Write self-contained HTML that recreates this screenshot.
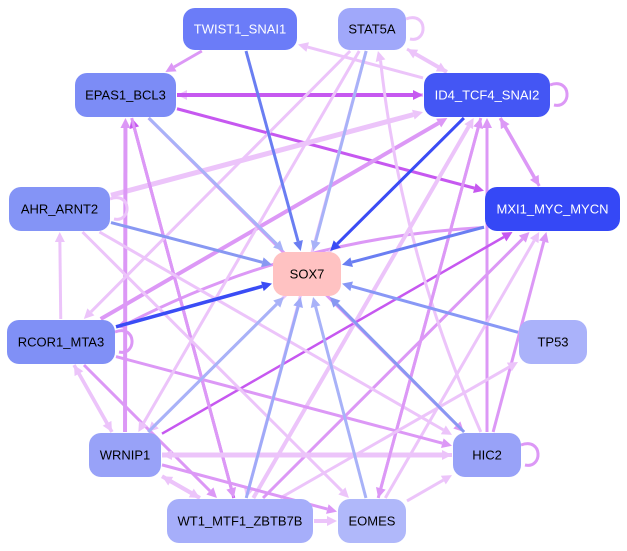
<!DOCTYPE html>
<html><head><meta charset="utf-8"><style>
html,body{margin:0;padding:0;background:#fff;width:627px;height:551px;overflow:hidden}
svg{display:block}
text{font-family:"Liberation Sans",sans-serif;font-size:13px;text-anchor:middle;dominant-baseline:central}
</style></head><body>
<svg id="s" width="627" height="551" viewBox="0 0 627 551" xmlns="http://www.w3.org/2000/svg">
<g id="edges"></g><g id="nodes"></g>
</svg>
<script>
const N={
TWIST:[183,8,114,42,'#6b7cf8','#fff','TWIST1_SNAI1'],
STAT:[338,8,68,42,'#a0a8fa','#000','STAT5A'],
EPAS:[75,73,101,44,'#7c8cf6','#000','EPAS1_BCL3'],
ID4:[424,73,126,44,'#4456f4','#fff','ID4_TCF4_SNAI2'],
AHR:[9,187,101,44,'#8494f6','#000','AHR_ARNT2'],
MXI:[485,187,135,44,'#3548f6','#fff','MXI1_MYC_MYCN'],
SOX:[273,252,68,44,'#ffc2c2','#000','SOX7'],
RCOR:[7,320,108,44,'#8090f6','#000','RCOR1_MTA3'],
TP53:[519,320,68,44,'#aab2fa','#000','TP53'],
WRN:[89,433,72,44,'#98a2f8','#000','WRNIP1'],
HIC:[453,433,68,44,'#98a2f8','#000','HIC2'],
WT1:[167,499,146,44,'#a6aefa','#000','WT1_MTF1_ZBTB7B'],
EOM:[338,499,68,44,'#b0b8fa','#000','EOMES']};
const DB='#3a4cf5',MB='#6a7ef2',LB='#a8b2f8',PU='#c658f0',PK='#dc98f6',LP='#ecc4fa';
const E=[
['TWIST','EPAS',PK,3],['ID4','EPAS',LP,4],['EPAS','ID4',PU,4],['EPAS','MXI',PU,3],
['ID4','MXI',PK,3.5],['MXI','ID4',PK,3],['ID4','STAT',LP,4],['STAT','ID4',LP,3],['ID4','TWIST',LP,3],
['MXI','RCOR',PK,3,40],['AHR','ID4',LP,5],['RCOR','ID4',PK,4],['WT1','ID4',LP,4],['HIC','ID4',PK,3],
['EOM','ID4',PK,3],['HIC','MXI',PK,3],['WT1','MXI',PK,3],['WRN','MXI',PU,2.5],['EOM','MXI',LP,3],
['WT1','EPAS',PU,3],['WRN','EPAS',PK,4],['EPAS','WT1',PK,3],['RCOR','HIC',PK,3],['RCOR','WT1',PK,3],
['RCOR','WRN',LP,3.5],['WRN','RCOR',LP,3.5],['AHR','HIC',LP,3],['AHR','EOM',LP,3],['RCOR','AHR',LP,3],
['WRN','HIC',LP,5],['HIC','WRN',LP,4],['WT1','WRN',LP,4],['WRN','WT1',LP,4],['WT1','EOM',LP,4],
['STAT','WRN',LP,3],['STAT','WT1',LP,3],['HIC','STAT',LP,3,-30],['ID4','EOM',PK,3],['WT1','TP53',LP,3],
['EOM','HIC',LP,3],['WRN','EOM',PK,3],['ID4','WRN',LP,3],['STAT','RCOR',LP,3],['EPAS','HIC',PK,3],
['TWIST','SOX',MB,3],['STAT','SOX',LB,3],['EPAS','SOX',LB,3],['ID4','SOX',DB,3],['MXI','SOX',MB,3],
['AHR','SOX','#8898f2',3],['RCOR','SOX',DB,3.5],['TP53','SOX','#8898f6',3],['HIC','SOX','#8898f2',3],
['EOM','SOX',LB,3],['WT1','SOX','#a0aaf8',3],['WRN','SOX',LB,3]];
function ctr(n){const a=N[n];return [a[0]+a[2]/2,a[1]+a[3]/2];}
function clip(n,dx,dy){const a=N[n];const hw=a[2]/2+1,hh=a[3]/2+1;return Math.min(dx?hw/Math.abs(dx):1e9,dy?hh/Math.abs(dy):1e9);}
let h='';
E.forEach(e=>{const[a,b,c,w,bend]=e;const A=ctr(a),B=ctr(b);const dx=B[0]-A[0],dy=B[1]-A[1];
const ta=clip(a,dx,dy),tb=clip(b,-dx,-dy);
const x1=A[0]+dx*ta,y1=A[1]+dy*ta,x2=B[0]-dx*tb,y2=B[1]-dy*tb;
const L=Math.hypot(x2-x1,y2-y1),ux=(x2-x1)/L,uy=(y2-y1)/L;
const ah=10,aw=5;const ex=x2-ux*ah,ey=y2-uy*ah;
if(bend){const mx=(x1+ex)/2-uy*bend,my=(y1+ey)/2+ux*bend;
h+=`<path d="M${x1},${y1} Q${mx},${my} ${ex},${ey}" fill="none" stroke="${c}" stroke-width="${w}"/>`;}
else h+=`<line x1="${x1}" y1="${y1}" x2="${ex}" y2="${ey}" stroke="${c}" stroke-width="${w}"/>`;
h+=`<polygon points="${x2},${y2} ${ex-uy*aw},${ey+ux*aw} ${ex+uy*aw},${ey-ux*aw}" fill="${c}"/>`;});
[['STAT',LP],['ID4',PK],['AHR',LP],['RCOR',PK],['HIC',PK]].forEach(s=>{const a=N[s[0]];const x=a[0]+a[2],y=a[1]+a[3]/2;
h+=`<path d="M${x},${y-10} C${x+22},${y-18} ${x+22},${y+14} ${x+4},${y+10}" fill="none" stroke="${s[1]}" stroke-width="3"/>`;});
document.getElementById('edges').innerHTML=h;
let g='';for(const k in N){const a=N[k];g+=`<rect x="${a[0]}" y="${a[1]}" width="${a[2]}" height="${a[3]}" rx="12" fill="${a[4]}"/><text x="${a[0]+a[2]/2}" y="${a[1]+a[3]/2}" fill="${a[5]}">${a[6]}</text>`;}
document.getElementById('nodes').innerHTML=g;
</script>
</body></html>
